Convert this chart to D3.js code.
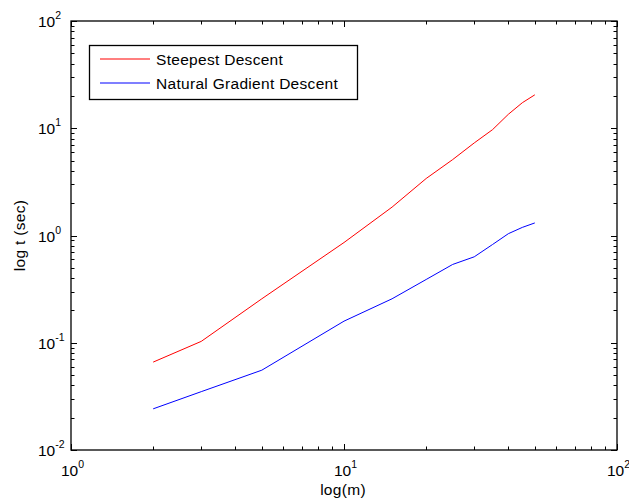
<!DOCTYPE html>
<html>
<head>
<meta charset="utf-8">
<script src="https://cdn.jsdelivr.net/npm/d3@7"></script>
<style>
  html, body { margin: 0; padding: 0; background: #fff; }
  svg text { font-family: Arial, "Liberation Sans", sans-serif; fill: #000; }
</style>
</head>
<body>
<svg id="chart" width="629" height="502"></svg>
<script>
// problem size m and run time t (sec)
const mValues   = [2, 3, 5, 10, 15, 20, 25, 30, 35, 40, 45, 50];
const steepest  = [0.066, 0.103, 0.257, 0.86, 1.84, 3.4, 5.1, 7.3, 9.7, 13.5, 17.3, 20.5];
const natural   = [0.0242, 0.035, 0.0555, 0.159, 0.257, 0.389, 0.537, 0.633, 0.824, 1.04, 1.19, 1.31];
const seriesNames = ['Steepest Descent', 'Natural Gradient Descent'];
const seriesColors = ['#ff0000', '#0000ff'];
const xTickExps = [0, 1, 2];
const yTickExps = [-2, -1, 0, 1, 2];

const svg = d3.select('#chart');
const pL = 71, pR = 617, pT = 21, pB = 450;

const x = d3.scaleLog().domain([1, 100]).range([pL, pR]);
const y = d3.scaleLog().domain([0.01, 100]).range([pB, pT]);

// minor + major ticks, drawn inward on all four sides (box on)
const xMinor = [], yMinor = [];
for (let e = 0; e < 2; e++) for (let k = 2; k <= 9; k++) xMinor.push(k * Math.pow(10, e));
for (let e = -2; e < 2; e++) for (let k = 2; k <= 9; k++) yMinor.push(k * Math.pow(10, e));

const ticks = svg.append('g').attr('stroke', '#000').attr('stroke-width', 1);
const majLen = 6, minLen = 3.5;
xTickExps.map(e => Math.pow(10, e)).forEach(v => {
  const px = Math.round(x(v)) + 0.5;
  ticks.append('line').attr('x1', px).attr('x2', px).attr('y1', pB).attr('y2', pB - majLen);
  ticks.append('line').attr('x1', px).attr('x2', px).attr('y1', pT).attr('y2', pT + majLen);
});
xMinor.forEach(v => {
  const px = Math.round(x(v)) + 0.5;
  ticks.append('line').attr('x1', px).attr('x2', px).attr('y1', pB).attr('y2', pB - minLen);
  ticks.append('line').attr('x1', px).attr('x2', px).attr('y1', pT).attr('y2', pT + minLen);
});
yTickExps.map(e => Math.pow(10, e)).forEach(v => {
  const py = Math.round(y(v)) + 0.5;
  ticks.append('line').attr('x1', pL).attr('x2', pL + majLen).attr('y1', py).attr('y2', py);
  ticks.append('line').attr('x1', pR).attr('x2', pR - majLen).attr('y1', py).attr('y2', py);
});
yMinor.forEach(v => {
  const py = Math.round(y(v)) + 0.5;
  ticks.append('line').attr('x1', pL).attr('x2', pL + minLen).attr('y1', py).attr('y2', py);
  ticks.append('line').attr('x1', pR).attr('x2', pR - minLen).attr('y1', py).attr('y2', py);
});

// axes box
svg.append('rect')
  .attr('x', pL).attr('y', pT)
  .attr('width', pR - pL).attr('height', pB - pT)
  .attr('fill', 'none').attr('stroke', '#000').attr('stroke-width', 1.3);

// tick labels: 10 with superscript exponent
function powLabel(g, e) {
  const t = g.append('text').attr('font-size', 15.5);
  t.append('tspan').text('10');
  t.append('tspan').attr('dy', -8).attr('font-size', 10.5).text(e);
  return t;
}
xTickExps.forEach(e => {
  powLabel(svg, e)
    .attr('x', x(Math.pow(10, e)) - 10)
    .attr('y', 476);
});
yTickExps.forEach(e => {
  powLabel(svg, e)
    .attr('x', 38)
    .attr('y', y(Math.pow(10, e)) + 6);
});

// axis titles
svg.append('text')
  .attr('x', 343).attr('y', 495)
  .attr('text-anchor', 'middle').attr('font-size', 15.5)
  .attr('letter-spacing', 0.3)
  .text('log(m)');
svg.append('text')
  .attr('transform', `translate(25,${(pT + pB) / 2}) rotate(-90)`)
  .attr('text-anchor', 'middle').attr('font-size', 15.5)
  .attr('letter-spacing', 0.3)
  .text('log t (sec)');

// lines
const line = d3.line().x(d => x(d[0])).y(d => y(d[1]));
[steepest, natural].forEach((vals, i) => {
  svg.append('path')
    .datum(mValues.map((m, j) => [m, vals[j]]))
    .attr('d', line)
    .attr('fill', 'none')
    .attr('stroke', seriesColors[i])
    .attr('stroke-width', 1);
});

// legend
const leg = svg.append('g');
leg.append('rect')
  .attr('x', 89.5).attr('y', 45.5).attr('width', 268).attr('height', 54)
  .attr('fill', '#fff').attr('stroke', '#000').attr('stroke-width', 1.3);
seriesNames.forEach((name, i) => {
  const ly = 59 + i * 24;
  leg.append('path')
    .attr('d', `M100,${ly}H150`)
    .style('fill', 'none')
    .style('stroke', seriesColors[i])
    .style('stroke-width', '1.2px');
  leg.append('text')
    .attr('x', 156).attr('y', ly + 6)
    .attr('font-size', 15.5)
    .attr('letter-spacing', 0.3)
    .text(name);
});
</script>
</body>
</html>
